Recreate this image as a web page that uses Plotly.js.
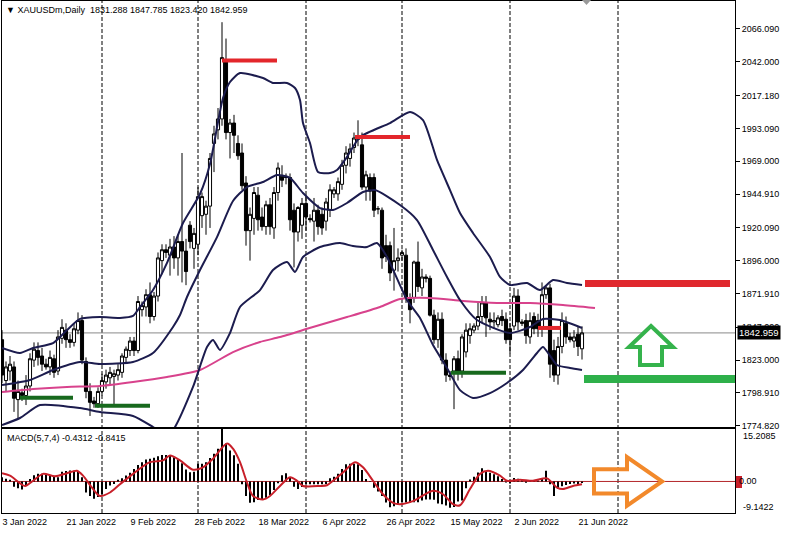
<!DOCTYPE html>
<html><head><meta charset="utf-8">
<script src="https://cdn.plot.ly/plotly-3.0.1.min.js"></script>
<style>html,body{margin:0;padding:0;background:#fff;overflow:hidden}#chart{width:787px;height:535px}</style>
</head><body><div id="chart"></div>
<script>
// ---------- DATA ----------
const openP = [1838,1808,1815,1818,1794,1799,1797,1804,1823,1830,1826,1820,1818,1824,1815,1839,1845,1838,1836,1845,
1852,1822,1800,1793,1791,1800,1807,1810,1811,1812,1814,1825,1830,1837,1830,1860,1862,1871,1855,1870,
1896,1904,1900,1906,1898,1910,1903,1922,1905,1908,1929,1930,1936,1982,1992,2000,2042,1990,1997,1982,
1975,1953,1918,1927,1944,1928,1921,1937,1920,1946,1958,1957,1957,1933,1917,1922,1938,1927,1925,1933,
1930,1925,1933,1945,1945,1952,1966,1971,1979,1985,1981,1950,1957,1957,1934,1933,1907,1907,1889,1896,
1900,1900,1868,1869,1895,1876,1884,1883,1856,1838,1853,1823,1812,1815,1824,1815,1829,1841,1845,1848,
1855,1865,1853,1851,1849,1855,1853,1846,1848,1870,1851,1852,1840,1855,1852,1846,1871,1876,1830,1812,
1833,1850,1840,1837,1842,1831.288];
const highP = [1845,1822,1826,1822,1808,1802,1812,1828,1836,1836,1832,1824,1830,1827,1845,1853,1850,1842,1850,1858,
1856,1825,1806,1796,1803,1813,1816,1818,1816,1820,1828,1833,1840,1840,1870,1866,1875,1880,1873,1902,
1908,1908,1912,1914,1915,1975,1912,1925,1920,1950,1946,1940,1975,1995,2008,2071,2059,2000,2003,1988,
1982,1958,1935,1950,1950,1935,1940,1942,1950,1968,1966,1960,1960,1938,1936,1942,1944,1930,1942,1937,
1935,1942,1952,1950,1957,1970,1980,1982,1990,1999,1990,1962,1960,1960,1936,1935,1915,1910,1920,1905,
1904,1905,1872,1896,1910,1890,1886,1885,1860,1858,1858,1828,1815,1826,1830,1842,1850,1850,1850,1866,
1870,1870,1858,1858,1856,1860,1858,1850,1876,1875,1853,1857,1858,1858,1857,1880,1878,1879,1838,1840,
1858,1855,1843,1845,1848,1847.785];
const lowP = [1806,1800,1808,1785,1780,1793,1790,1800,1818,1819,1815,1816,1812,1810,1812,1835,1832,1832,1833,1842,
1820,1795,1782,1788,1788,1797,1802,1805,1790,1808,1810,1821,1826,1826,1828,1855,1855,1850,1852,1866,
1886,1898,1885,1890,1885,1880,1878,1905,1890,1900,1920,1915,1920,1961,1985,1995,1985,1971,1975,1970,
1948,1907,1896,1915,1918,1918,1915,1915,1912,1940,1950,1952,1918,1891,1910,1912,1918,1924,1910,1915,
1915,1918,1928,1942,1940,1948,1960,1965,1975,1980,1948,1940,1940,1928,1930,1890,1895,1881,1874,1888,
1896,1865,1850,1865,1873,1870,1880,1855,1835,1832,1820,1807,1808,1787,1808,1810,1825,1835,1843,1845,
1850,1840,1845,1846,1847,1848,1835,1828,1845,1845,1848,1835,1835,1842,1840,1840,1868,1810,1807,1805,
1828,1835,1836,1832,1826,1823.420];
const closeP = [1812,1818,1820,1795,1800,1797,1804,1824,1831,1825,1820,1818,1825,1814,1840,1847,1838,1836,1846,1852,
1823,1800,1792,1791,1800,1808,1812,1814,1813,1816,1826,1831,1837,1830,1866,1863,1871,1855,1870,1898,
1904,1902,1906,1898,1910,1903,1888,1910,1916,1943,1943,1936,1971,1989,2000,2045,1990,1997,1988,1973,
1951,1918,1930,1946,1926,1921,1937,1921,1946,1964,1955,1957,1926,1917,1935,1938,1928,1926,1933,1921,
1920,1939,1948,1948,1954,1966,1975,1978,1986,1987,1950,1959,1947,1933,1934,1898,1899,1887,1896,1898,
1902,1869,1860,1895,1877,1884,1883,1856,1838,1853,1823,1812,1811,1824,1815,1840,1845,1846,1848,1855,
1865,1854,1851,1852,1854,1852,1838,1838,1870,1851,1850,1841,1852,1846,1846,1871,1876,1820,1812,1833,
1852,1840,1838,1840,1833,1842.959];

// Bollinger bands (bar index, price) and moving average
const bbUpperIdx = [0,4.5,7.75,12.75,16.25,19.5,24.5,29.5,32.75,34.5,37.75,41.25,45.25,49.5,52,54,55.25,57,59.5,65.25,67.75,71.25,73.25,74.5,75.25,77,79,82,83.75,86.25,89.5,97,102,105.25,108.75,112,114.5,117.75,122,124.5,127,131.25,134.5,137.75,141.25,145];
const bbUpper = [1831.9,1828.2,1831.9,1835.5,1845.1,1853.2,1854.6,1853.9,1855.4,1862.0,1874.4,1894.3,1923.6,1944.9,1966.9,1997.8,2015.4,2027.1,2033.7,2030.0,2026.4,2026.4,2022.7,2013.9,1997.0,1982.3,1961.1,1960.3,1962.5,1972.1,1986.7,1997.0,2005.1,1999.2,1969.9,1947.8,1931.0,1916.3,1898.7,1884.0,1878.1,1879.6,1874.4,1881.8,1879.6,1878.1];
const bbMidIdx = [0,7,12.75,19.5,24.5,32.75,37.75,42.75,44.5,46.25,49.5,53.75,57.75,61.25,65.25,68.75,72,75.25,79.5,82.75,86.25,90.25,93.25,99.5,103.75,107.75,111.25,114.5,118.75,127,132,135.25,139.5,145];
const bbMid = [1804.7,1808.4,1815.7,1821.6,1820.1,1821.6,1828.2,1847.3,1856.1,1869.3,1889.1,1913.3,1939.8,1950.0,1953.7,1958.9,1956.7,1945.6,1934.6,1933.2,1938.3,1946.4,1947.8,1936.8,1925.8,1903.8,1884.0,1867.1,1852.4,1842.9,1847.3,1853.2,1852.4,1846.6];
const bbLowerIdx = [0,4.5,9.5,19.5,24.5,32.75,37.75,40.75,42.75,47.75,51.25,52.75,54.5,57,59.5,64.5,67.75,71.25,73.25,75.25,79.5,84.5,87.75,91.25,93.75,96.25,101.25,104.5,107.75,111.25,114.5,117.75,122,126.25,130.25,133.75,135.25,138.75,142,145];
const bbLower = [1775.4,1780.5,1790.0,1787.8,1784.9,1782.0,1773.9,1768.0,1771.7,1803.3,1832.6,1837.8,1830.4,1842.9,1862.0,1874.4,1889.1,1895.0,1887.7,1898.7,1906.0,1908.9,1906.7,1906.0,1908.9,1898.7,1867.1,1853.9,1834.1,1817.2,1801.0,1795.2,1798.8,1806.2,1815.7,1828.2,1832.6,1819.4,1817.2,1815.7];
const maIdx = [0,7.75,16.25,24.5,32.75,41.25,49.5,57.75,64.5,69.5,77.75,86.25,94.5,99.5,107,115.25,123.75,132,140.25,148.25];
const maVals = [1799.6,1801.8,1803.3,1804.0,1806.9,1810.6,1815.7,1828.9,1836.3,1839.9,1847.3,1854.6,1862.0,1867.8,1868.6,1866.4,1864.9,1864.9,1863.4,1861.2];

// MACD(5,7,4): histogram per bar and signal line
const macdHist = [1.2,0.8,0.5,-1.5,-2.0,-2.3,-1.0,0.7,1.8,2.2,
2.2,1.9,1.8,1.5,1.2,2.8,3.0,3.2,3.1,2.9,
1.2,-3.2,-4.2,-5.0,-4.5,-3.7,-2.2,-1.2,-0.7,0.5,
0.9,1.7,2.5,3.6,4.8,5.6,6.4,6.6,6.9,7.3,
7.7,7.7,7.6,7.0,6.3,5.3,3.5,2.7,2.8,5.1,
5.1,5.6,6.8,8.0,9.5,15.2,11.0,9.0,7.6,5.1,
-0.8,-4.2,-6.2,-6.0,-5.4,-5.1,-4.7,-3.9,-2.5,-0.5,
1.8,2.4,1.0,-1.5,-2.2,-1.6,-0.9,-0.8,-0.8,-0.8,
-0.8,-0.7,0.9,1.4,2.2,3.6,5.0,5.1,5.1,5.0,
3.3,0.7,0.1,-1.8,-2.9,-4.2,-6.1,-7.5,-7.2,-6.6,
-6.1,-6.1,-6.1,-6.0,-6.0,-5.5,-5.2,-5.2,-5.3,-6.4,
-6.6,-7.0,-7.6,-7.4,-5.8,-5.5,-2.0,0.6,1.4,2.6,
3.8,3.0,2.5,2.1,1.5,0.7,-0.3,-0.6,1.0,0.8,
0.4,-0.4,0.3,0.2,0.3,0.8,3.1,-0.8,-4.2,-2.2,
-1.4,-1.0,-0.7,-0.6,-0.8,-0.43];
const signalIdx = [0,2,5.75,7.75,10.25,13.25,16.25,18.75,20.25,22.5,24.5,27,29.5,32.75,37,40.25,42,44.5,47.75,50.25,52.75,56.25,57.75,59.5,61.25,62.75,65.25,67,69.5,72,73.75,75.25,79.5,81.25,82.75,85.25,88.25,90.25,92.75,95.25,97.75,99.5,102.75,107.75,110.25,112.75,114.5,117,119.5,121.5,124.5,126.25,129.5,132.75,136.25,138.75,140.25,142.75,145];
const signalVals = [2.4,1.7,-1.3,0.2,2.2,1.5,2.4,3.1,1.7,-1.8,-4.2,-3.2,-0.8,2.2,5.6,6.1,7.5,6.1,3.4,4.1,6.6,11.0,9.5,5.6,-0.3,-4.2,-5.2,-4.2,-1.3,1.2,0.2,-1.3,-1.3,-1.1,0.2,2.6,5.6,4.1,0.2,-3.7,-6.2,-6.6,-5.7,-2.7,-3.7,-6.6,-6.9,-2.2,2.2,3.1,1.7,0.2,0.5,0.2,0.9,-1.8,-2.2,-1.3,-0.84];

// axis labels
const dateTickIdx = [0,16,32,48,64,80,96,112,128,144];
const dateTickText = ['3 Jan 2022','21 Jan 2022','9 Feb 2022','28 Feb 2022','18 Mar 2022','6 Apr 2022','26 Apr 2022','15 May 2022','2 Jun 2022','21 Jun 2022'];
const priceTickVals = [2066.09,2042.0,2017.18,1993.09,1969.0,1944.91,1920.09,1896.0,1871.91,1847.09,1823.0,1798.91,1774.82];
const gridIdx = [25,49,76,100,127,154];
const macdMax = 15.2085, macdMin = -9.1422;

// drawn levels
const redSegStart = [55,88.25,134], redSegEnd = [68.75,102,139.75], redSegPrice = [2042.9,1986.7,1846.6];
const greenSegStart = [4.5,23.25,112.25], greenSegEnd = [17.75,37,126], greenSegPrice = [1795.4,1789.5,1813.8];
const resistZone = {x0:145.75, x1:182, p0:1876.7, p1:1881.8};
const supportZone = {x0:145.5, x1:183.5, p0:1806.2, p1:1812.1};

// ---------- CHART ----------
const barIdx = openP.map((_, i) => i);
const lastClose = closeP[closeP.length - 1];
const FONT = 'Liberation Sans, Arial, sans-serif';
const FS = 9;
const px2x = px => (px - 2) / 733;
const py2y = py => (513 - py) / 512;

function segTrace(starts, ends, prices, color, width) {
  const xs = [], ys = [];
  starts.forEach((s, k) => { xs.push(s, ends[k], null); ys.push(prices[k], prices[k], null); });
  return {type:'scatter', mode:'lines', x:xs, y:ys, xaxis:'x', yaxis:'y',
          line:{color:color, width:width}, hoverinfo:'skip'};
}
function line(x, y, color) {
  return {type:'scatter', mode:'lines', x:x, y:y, xaxis:'x', yaxis:'y',
          line:{color:color, width:2, shape:'spline', smoothing:0.6}, hoverinfo:'skip'};
}

const traces = [
  line(maIdx, maVals, '#d8428c'),
  line(bbUpperIdx, bbUpper, '#1c1c4e'),
  line(bbMidIdx, bbMid, '#1c1c4e'),
  line(bbLowerIdx, bbLower, '#1c1c4e'),
  {type:'candlestick', x:barIdx, open:openP, high:highP, low:lowP, close:closeP, xaxis:'x', yaxis:'y',
   whiskerwidth:0,
   increasing:{line:{color:'#000', width:1}, fillcolor:'#ffffff'},
   decreasing:{line:{color:'#000', width:1}, fillcolor:'#000000'}, hoverinfo:'skip'},
  segTrace(redSegStart, redSegEnd, redSegPrice, '#e3262b', 4),
  segTrace(greenSegStart, greenSegEnd, greenSegPrice, '#17691d', 4),
  {type:'bar', x:barIdx, y:macdHist, xaxis:'x2', yaxis:'y2', width:0.5,
   marker:{color:'#000', line:{width:0}}, hoverinfo:'skip'},
  {type:'scatter', mode:'lines', x:signalIdx, y:signalVals, xaxis:'x2', yaxis:'y2',
   line:{color:'#c8202a', width:2, shape:'spline', smoothing:0.8}, hoverinfo:'skip'}
];

function pathStr(pts){ return 'M' + pts.map(p => p[0] + ',' + p[1]).join('L') + 'Z'; }
// up arrow (green) anchored at tip
const upTip = [162.25, 1848.0], upHeadP = 1832.6, upBaseP = 1819.4, upHalfHead = 5.5, upHalfShaft = 2.75;
const upPath = pathStr([upTip,[upTip[0]+upHalfHead,upHeadP],[upTip[0]+upHalfShaft,upHeadP],[upTip[0]+upHalfShaft,upBaseP],
  [upTip[0]-upHalfShaft,upBaseP],[upTip[0]-upHalfShaft,upHeadP],[upTip[0]-upHalfHead,upHeadP]]);
// right arrow (orange) in MACD panel
const rtTip = [165, 0], rtHeadX = 156.25, rtTailX = 148, rtHalfHead = 7.04, rtHalfShaft = 3.52;
const rtPath = pathStr([rtTip,[rtHeadX,rtHalfHead],[rtHeadX,rtHalfShaft],[rtTailX,rtHalfShaft],
  [rtTailX,-rtHalfShaft],[rtHeadX,-rtHalfShaft],[rtHeadX,-rtHalfHead]]);

const shapes = [];
gridIdx.forEach(g => shapes.push({type:'line', xref:'x', yref:'paper', x0:g, x1:g, y0:0, y1:1, layer:'below',
  line:{color:'#000', width:1, dash:'4px,2px'}}));
shapes.push({type:'line', xref:'paper', yref:'y', x0:0, x1:1, y0:lastClose, y1:lastClose, layer:'below',
  line:{color:'#8a8a8a', width:1}});
shapes.push({type:'line', xref:'paper', yref:'y2', x0:0, x1:1, y0:0, y1:0, layer:'below',
  line:{color:'#b3262a', width:1}});
shapes.push({type:'rect', xref:'x', yref:'y', x0:resistZone.x0, x1:resistZone.x1, y0:resistZone.p0, y1:resistZone.p1,
  fillcolor:'#e0282e', line:{width:0}});
shapes.push({type:'rect', xref:'x', yref:'y', x0:supportZone.x0, x1:supportZone.x1, y0:supportZone.p0, y1:supportZone.p1,
  fillcolor:'#2eb04a', line:{width:0}});
shapes.push({type:'path', xref:'x', yref:'y', path:upPath, fillcolor:'#ffffff', line:{color:'#35b34c', width:4}});
shapes.push({type:'path', xref:'x2', yref:'y2', path:rtPath, fillcolor:'rgba(255,255,255,0)', line:{color:'#f2892b', width:4}});
// red marker behind the 0.00 label
shapes.push({type:'rect', xref:'paper', yref:'paper', x0:px2x(736), x1:px2x(742), y0:py2y(488), y1:py2y(476),
  fillcolor:'#c8202a', line:{width:0}});
// small gray shift marker at top
shapes.push({type:'path', xref:'paper', yref:'paper',
  path:'M'+px2x(582)+','+py2y(0)+'L'+px2x(591)+','+py2y(0)+'L'+px2x(586.5)+','+py2y(5)+'Z',
  fillcolor:'#9a9a9a', line:{width:0}});

const annotations = [
  {xref:'paper', yref:'paper', x:px2x(4), y:py2y(10), xanchor:'left', yanchor:'middle', showarrow:false,
   text:'▼ XAUUSDm,Daily  1831.288 1847.785 1823.420 1842.959', font:{family:FONT, size:FS, color:'#000'}},
  {xref:'paper', yref:'paper', x:px2x(5), y:py2y(438), xanchor:'left', yanchor:'middle', showarrow:false,
   text:'MACD(5,7,4) -0.4312 -0.8415', font:{family:FONT, size:FS, color:'#000'}},
  {xref:'paper', yref:'y', x:1, y:lastClose, xanchor:'left', yanchor:'middle', xshift:2, showarrow:false,
   text:lastClose.toFixed(3), bgcolor:'#000', borderpad:1, font:{family:FONT, size:FS+0.5, color:'#fff'}},
  {xref:'paper', yref:'paper', x:px2x(741), y:py2y(436), xanchor:'left', yanchor:'middle', showarrow:false,
   text:macdMax.toFixed(4), font:{family:FONT, size:FS, color:'#000'}},
  {xref:'paper', yref:'y2', x:px2x(737), y:0, xanchor:'left', yanchor:'middle', showarrow:false,
   text:'0.00', font:{family:FONT, size:FS, color:'#000'}},
  {xref:'paper', yref:'paper', x:px2x(741), y:py2y(507), xanchor:'left', yanchor:'middle', showarrow:false,
   text:macdMin.toFixed(4), font:{family:FONT, size:FS, color:'#000'}}
];

const axCommon = {showgrid:false, zeroline:false, showline:true, mirror:true, linecolor:'#000', linewidth:1,
  fixedrange:true, automargin:false};
const layout = {
  width:787, height:535, margin:{l:2, r:52, t:1, b:22},
  paper_bgcolor:'#fff', plot_bgcolor:'#fff', showlegend:false, hovermode:false,
  font:{family:FONT, size:FS, color:'#000'},
  boxgap:0.12, boxgroupgap:0.12,
  xaxis:Object.assign({}, axCommon, {domain:[0,1], anchor:'y', range:[0,183.25], showticklabels:false, ticks:'',
    rangeslider:{visible:false}}),
  yaxis:Object.assign({}, axCommon, {domain:[(513-427)/512, 1], anchor:'x', side:'right', range:[1773.9, 2086.56],
    tickmode:'array', tickvals:priceTickVals, ticktext:priceTickVals.map(v => v.toFixed(3)),
    ticks:'outside', ticklen:4, tickcolor:'#000', tickfont:{family:FONT, size:FS}}),
  xaxis2:Object.assign({}, axCommon, {domain:[0,1], anchor:'y2', range:[0,183.25], tickmode:'array',
    tickvals:dateTickIdx, ticktext:dateTickText, ticks:'', tickangle:0, ticklabelposition:'outside right',
    tickfont:{family:FONT, size:FS}}),
  yaxis2:Object.assign({}, axCommon, {domain:[0, (513-429)/512], anchor:'x2', side:'right', range:[macdMin, macdMax],
    showticklabels:false, ticks:''}),
  shapes:shapes, annotations:annotations
};
Plotly.newPlot('chart', traces, layout, {staticPlot:true, displayModeBar:false});
</script>
</body></html>
